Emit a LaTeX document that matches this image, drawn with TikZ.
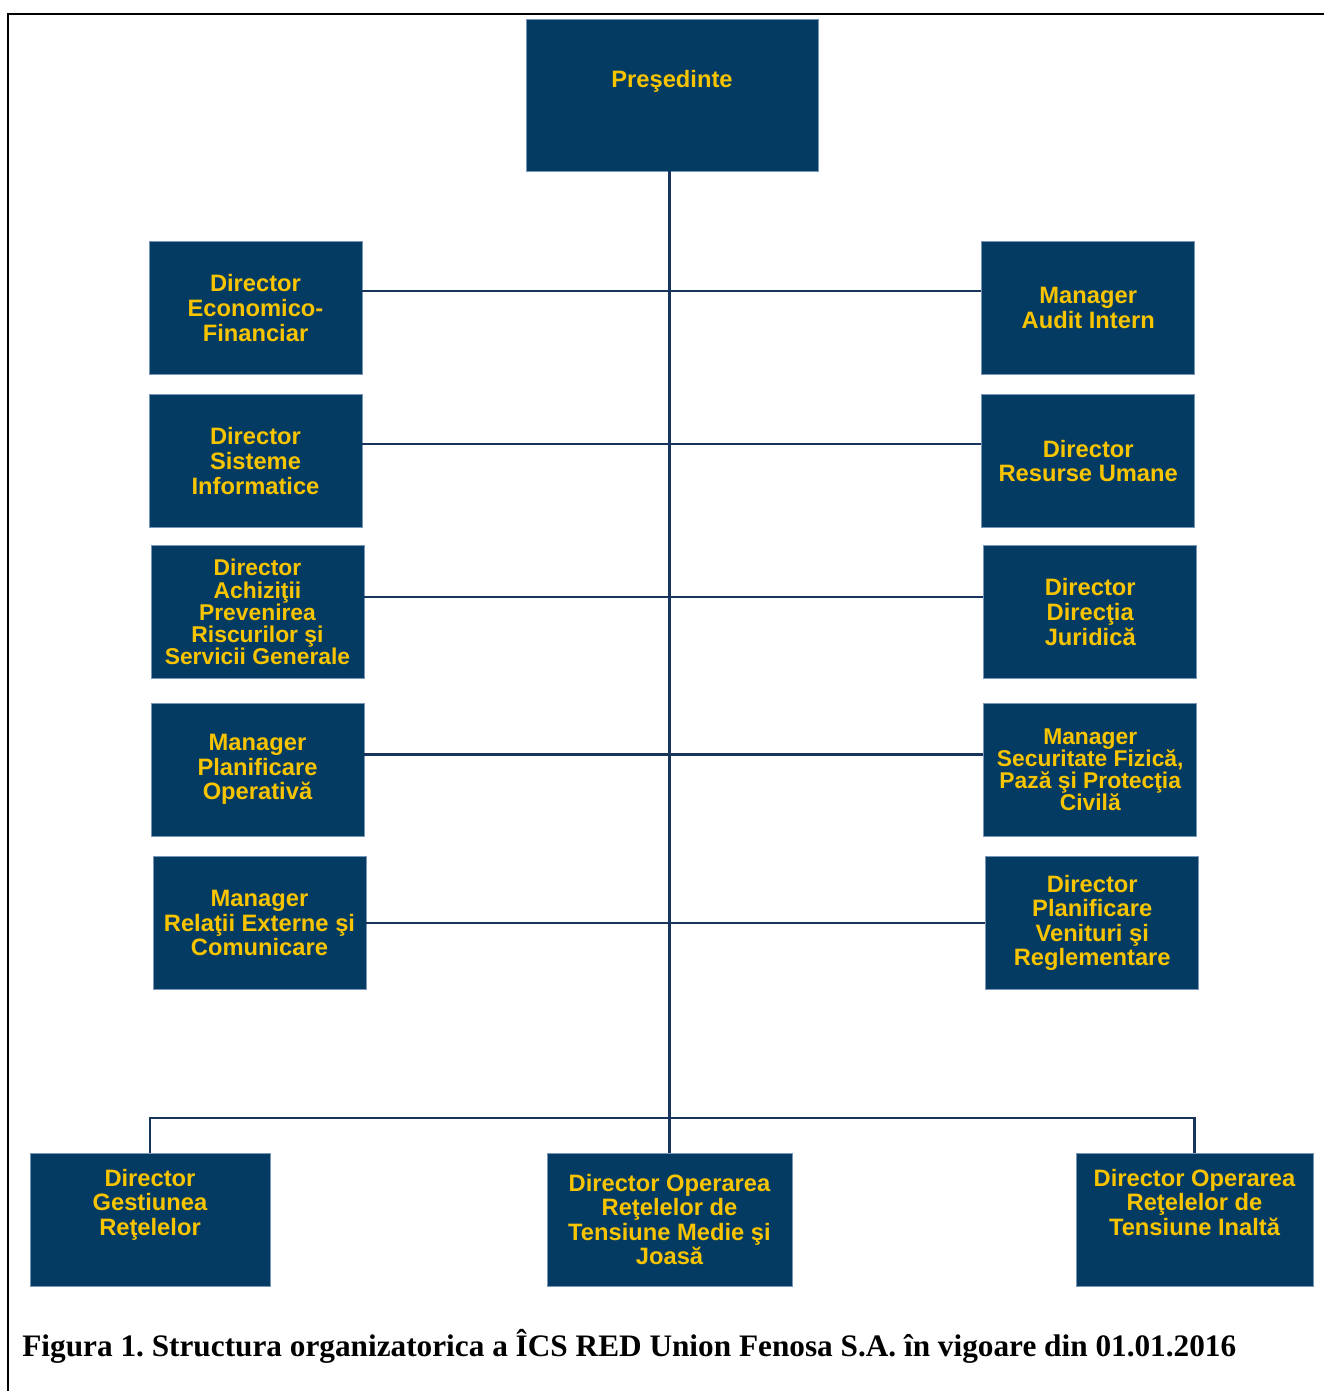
\documentclass[tikz,border=0pt]{standalone}
\usepackage{fontspec}
\setmainfont{Liberation Serif}
\newfontfamily\orgfont{Liberation Sans}
\usetikzlibrary{positioning}
\definecolor{orgblue}{RGB}{3,59,99}
\definecolor{orgedge}{RGB}{120,150,185}
\definecolor{orgyellow}{RGB}{248,196,0}
\definecolor{orgline}{RGB}{22,52,92}
\frenchspacing

\begin{document}
\begin{tikzpicture}[x=0.02cm,y=-0.02cm]
        \tikzset{block/.style= {draw=orgedge, line width=0.5pt, fill=orgblue, text=orgyellow, rectangle, align=center,
                font=\orgfont\bfseries\fontsize{13.5}{14}\selectfont, inner sep=2pt,
                minimum width=4.26cm, minimum height=2.66cm},
        topblock/.style={block, minimum width=5.84cm, minimum height=3.04cm},
        tight/.style={font=\orgfont\bfseries\fontsize{13}{12.6}\selectfont},
        raised/.style={text depth=#1},
        link/.style={draw=orgline, line width=1.2pt},
        }
        \useasboundingbox (0,0) rectangle (1324,1391);
        \draw[line width=1pt] (1324,14) -- (8,14) -- (8,1391);

        \node [topblock, raised=0.65cm] (pres) at (672,95) {Preşedinte};

%% left column
        \node [block] (ecfin) at (255.5,308) {Director\\Economico-\\Financiar};
        \node [block] (sistinf) at (255.5,461) {Director\\Sisteme\\Informatice};
        \node [block, tight] (achiz) at (257.5,612) {Director\\Achiziţii\\Prevenirea\\Riscurilor şi\\Servicii Generale};
        \node [block] (planop) at (257.5,769.5) {Manager\\Planificare\\Operativă};
        \node [block] (relext) at (259.5,923) {Manager\\Relaţii Externe şi\\Comunicare};

%% right column
        \node [block, right=12.38cm of ecfin] (audit) {Manager\\Audit Intern};
        \node [block, right=12.38cm of sistinf] (resum) {Director\\Resurse Umane};
        \node [block, right=12.38cm of achiz] (jurid) {Director\\Direcţia\\Juridică};
        \node [block, tight, right=12.38cm of planop] (secfiz) {Manager\\Securitate Fizică,\\Pază şi Protecţia\\Civilă};
        \node [block, right=12.38cm of relext] (planven) {Director\\Planificare\\Venituri şi\\Reglementare};

%% bottom row
        \node [block, minimum width=4.8cm, raised=0.7cm] (gestret) at (150,1219.5) {Director\\Gestiunea\\Reţelelor};
        \node [block, minimum width=4.9cm] (opmedie) at (669.5,1219.5) {Director Operarea\\Reţelelor de\\Tensiune Medie şi\\Joasă};
        \node [block, minimum width=4.74cm, raised=0.7cm] (opinalta) at (1194.5,1219.5) {Director Operarea\\Reţelelor de\\Tensiune Inaltă};

        \node [anchor=base west, inner sep=0pt, font=\bfseries\fontsize{17.8}{20}\selectfont] (caption) at (22,1356)
              {Figura 1. Structura organizatorica a ÎCS RED Union Fenosa S.A. în vigoare din 01.01.2016};

%% paths
        \path[link] ([yshift=0.34cm]ecfin.east) -- ([yshift=0.34cm]audit.west)
                    ([yshift=0.34cm]sistinf.east) -- ([yshift=0.34cm]resum.west)
                    ([yshift=0.3cm]achiz.east) -- ([yshift=0.3cm]jurid.west)
                    ([yshift=0.3cm]planop.east) -- ([yshift=0.3cm]secfiz.west)
                    (relext) -- (planven)
                    (opmedie.north |- pres.south) -- (opmedie.north)
                    (gestret.north) -- ++(0,-35) -| (opinalta.north)
                    ;
    \end{tikzpicture}
\end{document}
